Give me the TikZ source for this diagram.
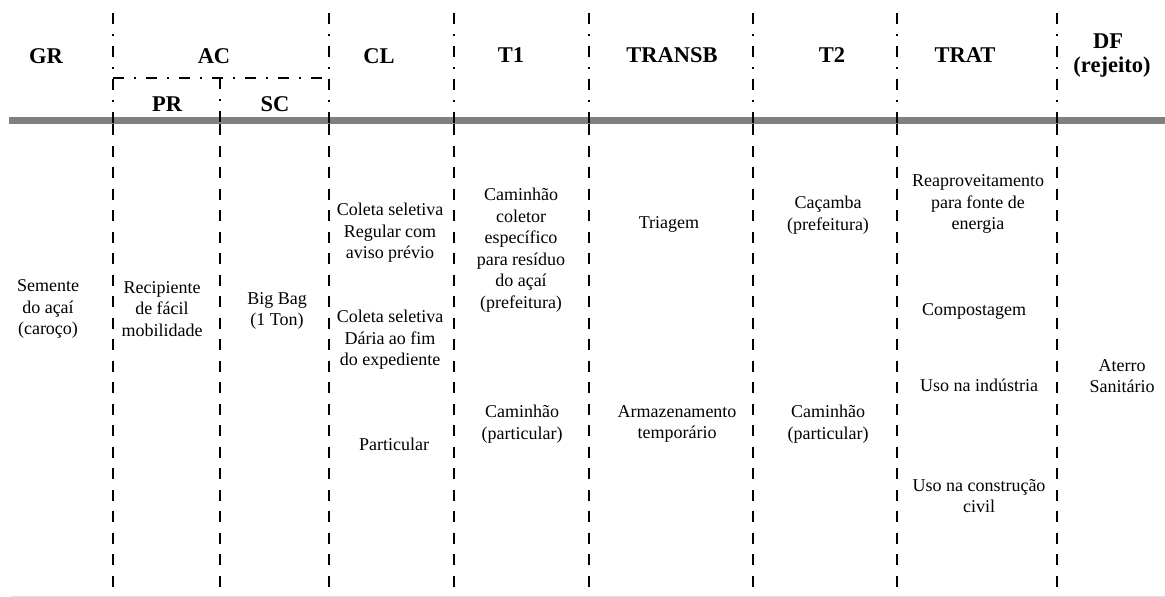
\documentclass[tikz,border=0pt]{standalone}
\usepackage{fontspec}
\setmainfont{Liberation Serif}
\begin{document}
\begin{tikzpicture}[x=1pt,y=-1pt,
  dd/.style={line width=2.7pt, dash pattern=on 11pt off 10pt on 2pt off 10pt},
  dl/.style={line width=2.7pt, dash pattern=on 11pt off 10.5pt},
  hd/.style={font=\fontsize{22.5}{24}\selectfont\bfseries, anchor=base, inner sep=0pt},
  tx/.style={font=\fontsize{18}{21.5}\selectfont, align=center, inner sep=0pt}]
\useasboundingbox (0,0) rectangle (1165,597);
% bottom faint rule and header bar
\draw[line width=1pt, black!12] (11,596) -- (1165,596);
\fill[black!50] (9,117) rectangle (1165,124);
% column separators
\foreach \x in {113,329,454,589,753,897,1057}{
  \draw[dd] (\x,13) -- (\x,124);
  \draw[dl] (\x,124) -- (\x,597);
}
\draw[dd] (113,78) -- (329,78);
\draw[dd] (220,78) -- (220,124);
\draw[dl] (220,124) -- (220,597);
% headers
\node[hd] (gr) at (46,63) {GR};
\node[hd] (ac) at (214,63) {AC};
\node[hd] (pr) at (167,111) {PR};
\node[hd] (sc) at (275,111) {SC};
\node[hd] (cl) at (379,63) {CL};
\node[hd] (t1) at (511,62) {T1};
\node[hd] (transb) at (672,62) {TRANSB};
\node[hd] (t2) at (832,62) {T2};
\node[hd] (trat) at (965,62) {TRAT};
\node[hd] (df) at (1108,48) {DF};
\node[hd] (rej) at (1112,72) {(rejeito)};
% body
\node[tx] (gr1) at (48,309) {Semente\\do açaí\\(caroço)};
\node[tx] (pr1) at (162,309) {Recipiente\\de fácil\\mobilidade};
\node[tx] (sc1) at (277,311) {Big Bag\\(1 Ton)};
\node[tx] (cl1) at (390,233) {Coleta seletiva\\Regular com\\aviso prévio};
\node[tx] (cl2) at (390,340) {Coleta seletiva\\Dária ao fim\\do expediente};
\node[tx] (cl3) at (394,444) {Particular};
\node[tx] (t1a) at (521,250) {Caminhão\\coletor\\específico\\para resíduo\\do açaí\\(prefeitura)};
\node[tx] (t1b) at (522,424) {Caminhão\\(particular)};
\node[tx] (tb1) at (669,224) {Triagem};
\node[tx] (tb2) at (677,424) {Armazenamento\\temporário};
\node[tx] (t2a) at (828,215) {Caçamba\\(prefeitura)};
\node[tx] (t2b) at (828,424) {Caminhão\\(particular)};
\node[tx] (tr1) at (978,204) {Reaproveitamento\\para fonte de\\energia};
\node[tx] (tr2) at (974,311) {Compostagem};
\node[tx] (tr3) at (979,385) {Uso na indústria};
\node[tx] (tr4) at (979,496) {Uso na construção\\civil};
\node[tx] (df1) at (1122,376) {Aterro\\Sanitário};
\end{tikzpicture}
\end{document}
